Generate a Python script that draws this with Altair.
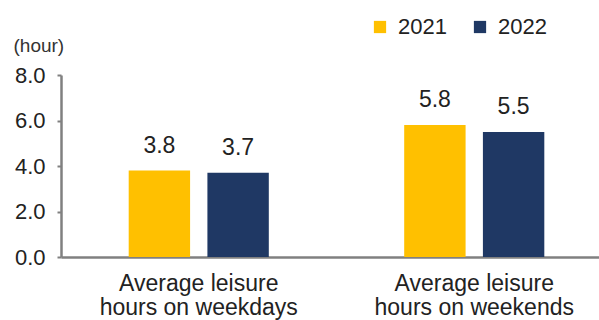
import altair as alt
import pandas as pd

categories = ["Average leisure|hours on weekdays", "Average leisure|hours on weekends"]
years = ["2021", "2022"]
values_2021 = [3.8, 5.8]
values_2022 = [3.7, 5.5]
y_ticks = [0, 2, 4, 6, 8]

rows = []
for c, v1, v2 in zip(categories, values_2021, values_2022):
    rows.append({"category": c, "year": "2021", "value": v1})
    rows.append({"category": c, "year": "2022", "value": v2})
df = pd.DataFrame(rows)

FONT = "Liberation Sans"
colors = ["#FFC000", "#1F3864"]

x = alt.X("category:N", sort=categories,
          scale=alt.Scale(paddingInner=0, paddingOuter=0, range=[0, 551]),
          axis=alt.Axis(title=None, labelAngle=0, ticks=False,
                        labelExpr="split(datum.label, '|')",
                        labelFontSize=23, labelFont=FONT, labelColor="#222222",
                        labelLineHeight=24, labelPadding=15, labelLimit=400,
                        domainColor="#808080", domainWidth=2.5))
xo = alt.XOffset("year:N", sort=years,
                 scale=alt.Scale(domain=years, paddingInner=0.22, paddingOuter=0.86))

base = alt.Chart(df)

bars = base.mark_bar().encode(
    x=x,
    xOffset=xo,
    y=alt.Y("value:Q", scale=alt.Scale(domain=[0, 8], nice=False),
            axis=alt.Axis(values=y_ticks, format=".1f", grid=False,
                          title="(hour)", titleAngle=0, titleX=-48, titleY=-30,
                          titleAlign="left", titleBaseline="middle",
                          titleFont=FONT, titleFontSize=19, titleFontWeight="normal",
                          titleColor="#333333",
                          labelFont=FONT, labelFontSize=22, labelColor="#222222",
                          labelPadding=12, tickSize=4, tickColor="#808080", tickWidth=2,
                          domainColor="#808080", domainWidth=2.5)),
    color=alt.Color("year:N", sort=years,
                    scale=alt.Scale(domain=years, range=colors),
                    legend=alt.Legend(title=None, orient="none", legendX=308, legendY=-59,
                                      direction="horizontal", symbolType="square",
                                      symbolSize=150, symbolStrokeWidth=0,
                                      labelFont=FONT, labelFontSize=22,
                                      labelColor="#222222", labelOffset=7,
                                      columnPadding=22, padding=0)),
)

labels = base.mark_text(dy=-13, baseline="bottom", font=FONT, fontSize=23,
                        color="#222222").encode(
    x=x,
    xOffset=xo,
    y=alt.Y("value:Q"),
    text=alt.Text("value:Q", format=".1f"),
)

chart = (bars + labels).properties(
    width=538, height=182,
    padding={"left": 61, "top": 75, "right": 0, "bottom": 63},
    autosize=alt.AutoSizeParams(type="none"),
    background="white",
).configure_view(stroke=None)

chart.save("out.html", embed_options={"renderer": "svg", "actions": False})
